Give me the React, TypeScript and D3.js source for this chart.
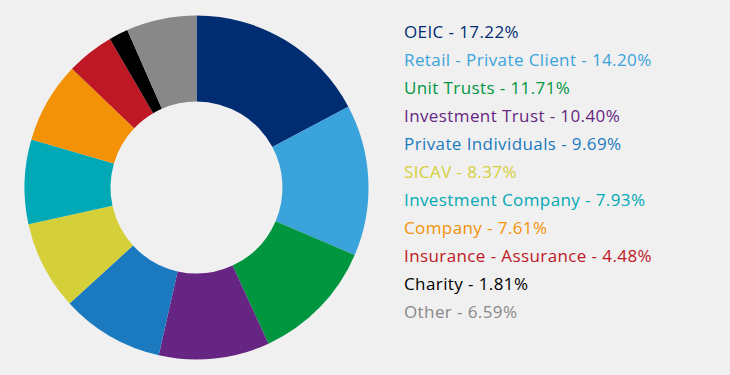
import React from "react";
import * as d3 from "d3";

const categories = [
  "OEIC",
  "Retail - Private Client",
  "Unit Trusts",
  "Investment Trust",
  "Private Individuals",
  "SICAV",
  "Investment Company",
  "Company",
  "Insurance - Assurance",
  "Charity",
  "Other",
];
const values = [17.22, 14.2, 11.71, 10.4, 9.69, 8.37, 7.93, 7.61, 4.48, 1.81, 6.59];
const colors = [
  "#002d72",
  "#3aa3dc",
  "#00963f",
  "#662582",
  "#1b7abf",
  "#d5cf3a",
  "#00a9b5",
  "#f39207",
  "#be1824",
  "#000000",
  "#888888",
];

export default function App() {
  const W = 730;
  const H = 375;
  const cx = 196.5;
  const cy = 187.5;
  const outerR = 172;
  const innerR = 86;
  const pie = d3.pie<number>().sort(null).value((d) => d);
  const arcs = pie(values);
  const arc = d3.arc<d3.PieArcDatum<number>>().innerRadius(innerR).outerRadius(outerR);
  const legendY = d3.scaleLinear().domain([0, categories.length - 1]).range([38, 318]);

  return (
    <svg
      width={W}
      height={H}
      style={{ position: "absolute", left: 0, top: 0, background: "#f0f0f0" }}
    >
      <rect width={W} height={H} fill="#f0f0f0" />
      <g transform={`translate(${cx},${cy})`}>
        {arcs.map((a, i) => (
          <path key={i} d={arc(a) || ""} fill={colors[i]} />
        ))}
      </g>
      <g fontFamily="'Open Sans', sans-serif" fontSize={17} fontWeight={500} letterSpacing={0.4}>
        {categories.map((c, i) => (
          <text key={c} x={404} y={legendY(i)} fill={colors[i]}>
            {`${c} - ${values[i].toFixed(2)}%`}
          </text>
        ))}
      </g>
    </svg>
  );
}
